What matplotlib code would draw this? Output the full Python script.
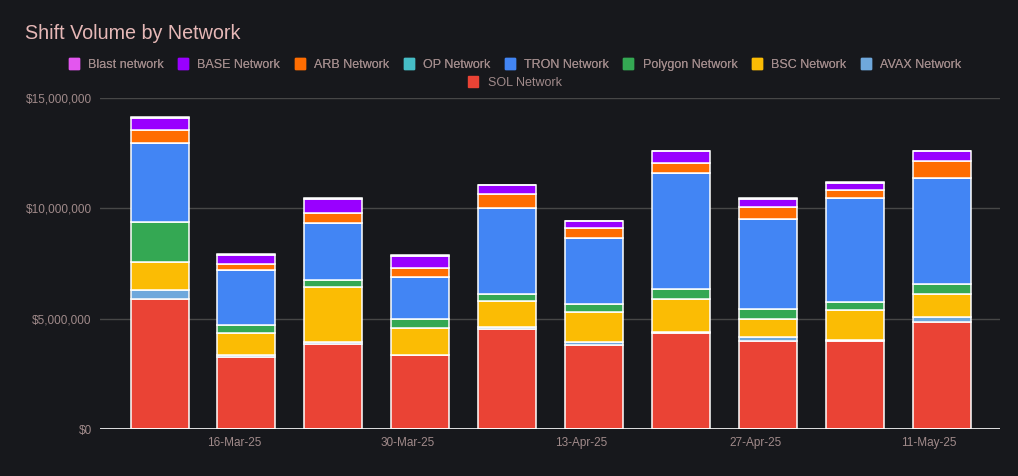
import datetime as dt
import matplotlib
matplotlib.use("Agg")
import matplotlib.pyplot as plt
import matplotlib.dates as mdates
from matplotlib.patches import Patch
from matplotlib.ticker import FuncFormatter

# DATA (weekly volume, USD millions)

weeks = ["2025-03-10", "2025-03-17", "2025-03-24", "2025-03-31", "2025-04-07",
         "2025-04-14", "2025-04-21", "2025-04-28", "2025-05-05", "2025-05-12"]

sol = [5.88, 3.25, 3.84, 3.34, 4.52, 3.79, 4.35, 3.97, 3.99, 4.83]
avax = [0.41, 0.09, 0.09, 0.03, 0.09, 0.14, 0.03, 0.18, 0.03, 0.23]
bsc = [1.27, 1.00, 2.49, 1.22, 1.18, 1.36, 1.50, 0.82, 1.39, 1.04]
polygon = [1.81, 0.36, 0.32, 0.41, 0.32, 0.36, 0.47, 0.45, 0.36, 0.47]
tron = [3.58, 2.49, 2.58, 1.90, 3.90, 2.99, 5.24, 4.08, 4.71, 4.79]
op = [0.02, 0.01, 0.01, 0.01, 0.01, 0.01, 0.01, 0.01, 0.01, 0.01]
arb = [0.60, 0.27, 0.45, 0.41, 0.63, 0.45, 0.47, 0.54, 0.36, 0.77]
base = [0.51, 0.41, 0.66, 0.53, 0.39, 0.32, 0.51, 0.39, 0.32, 0.44]
blast = [0.04, 0.03, 0.03, 0.03, 0.03, 0.03, 0.03, 0.03, 0.03, 0.03]

# bottom to top
series = [
    ("SOL Network", sol, "#ea4335"),
    ("AVAX Network", avax, "#6fa8dc"),
    ("BSC Network", bsc, "#fbbc04"),
    ("Polygon Network", polygon, "#34a853"),
    ("TRON Network", tron, "#4285f4"),
    ("OP Network", op, "#46bdc6"),
    ("ARB Network", arb, "#ff6d01"),
    ("BASE Network", base, "#9900ff"),
    ("Blast network", blast, "#e356ef"),
]

tick_dates = ["2025-03-16", "2025-03-30", "2025-04-13", "2025-04-27", "2025-05-11"]

# STYLE

bg = "#17181c"
txt = "#a08a8a"
plt.rcParams["font.family"] = ["Liberation Sans", "DejaVu Sans"]

x = [dt.datetime.strptime(w, "%Y-%m-%d") for w in weeks]

fig = plt.figure(figsize=(10.18, 4.76), dpi=100, facecolor=bg)
ax = fig.add_axes([0.0982, 0.0987, 0.8838, 0.6953], facecolor=bg)

bottom = [0.0] * len(x)
for name, vals, col in series:
    ax.bar(x, [v * 1e6 for v in vals], width=4.67,
           bottom=[b * 1e6 for b in bottom], color=col,
           edgecolor="white", linewidth=1.1, zorder=3)
    bottom = [b + v for b, v in zip(bottom, vals)]

ax.set_ylim(0, 15e6)
ax.set_yticks([0, 5e6, 10e6, 15e6])
ax.yaxis.set_major_formatter(FuncFormatter(lambda v, p: f"${v:,.0f}"))
ax.grid(axis="y", color="#474747", linewidth=1, zorder=0)
ax.axhline(0, color="white", linewidth=1.2, zorder=4)

ax.set_xlim(x[0] - dt.timedelta(days=4.8), x[-1] + dt.timedelta(days=4.67))
ax.set_xticks([dt.datetime.strptime(d, "%Y-%m-%d") for d in tick_dates])
ax.xaxis.set_major_formatter(mdates.DateFormatter("%d-%b-%y"))

ax.tick_params(length=0, colors=txt, labelsize=8.5, pad=6)
for s in ax.spines.values():
    s.set_visible(False)

fig.text(0.0246, 0.93, "Shift Volume by Network", color="#e6b8b7",
         fontsize=14.2, va="center", ha="left")

# LEGEND: two rows, top row in reverse stack order

top_row = series[1:][::-1]
h1 = [Patch(facecolor=c, edgecolor=c, label=n) for n, v, c in top_row]
leg1 = fig.legend(handles=h1, loc="center", bbox_to_anchor=(0.506, 0.865),
                  ncol=8, frameon=False, fontsize=9, labelcolor=txt,
                  handlelength=0.8, handleheight=1.0, handletextpad=0.75,
                  columnspacing=1.15)
h2 = [Patch(facecolor=series[0][2], edgecolor=series[0][2], label=series[0][0])]
fig.legend(handles=h2, loc="center", bbox_to_anchor=(0.506, 0.827),
           frameon=False, fontsize=9, labelcolor=txt,
           handlelength=0.8, handleheight=1.0, handletextpad=0.75)
fig.add_artist(leg1)

fig.savefig("out.png", facecolor=bg)
